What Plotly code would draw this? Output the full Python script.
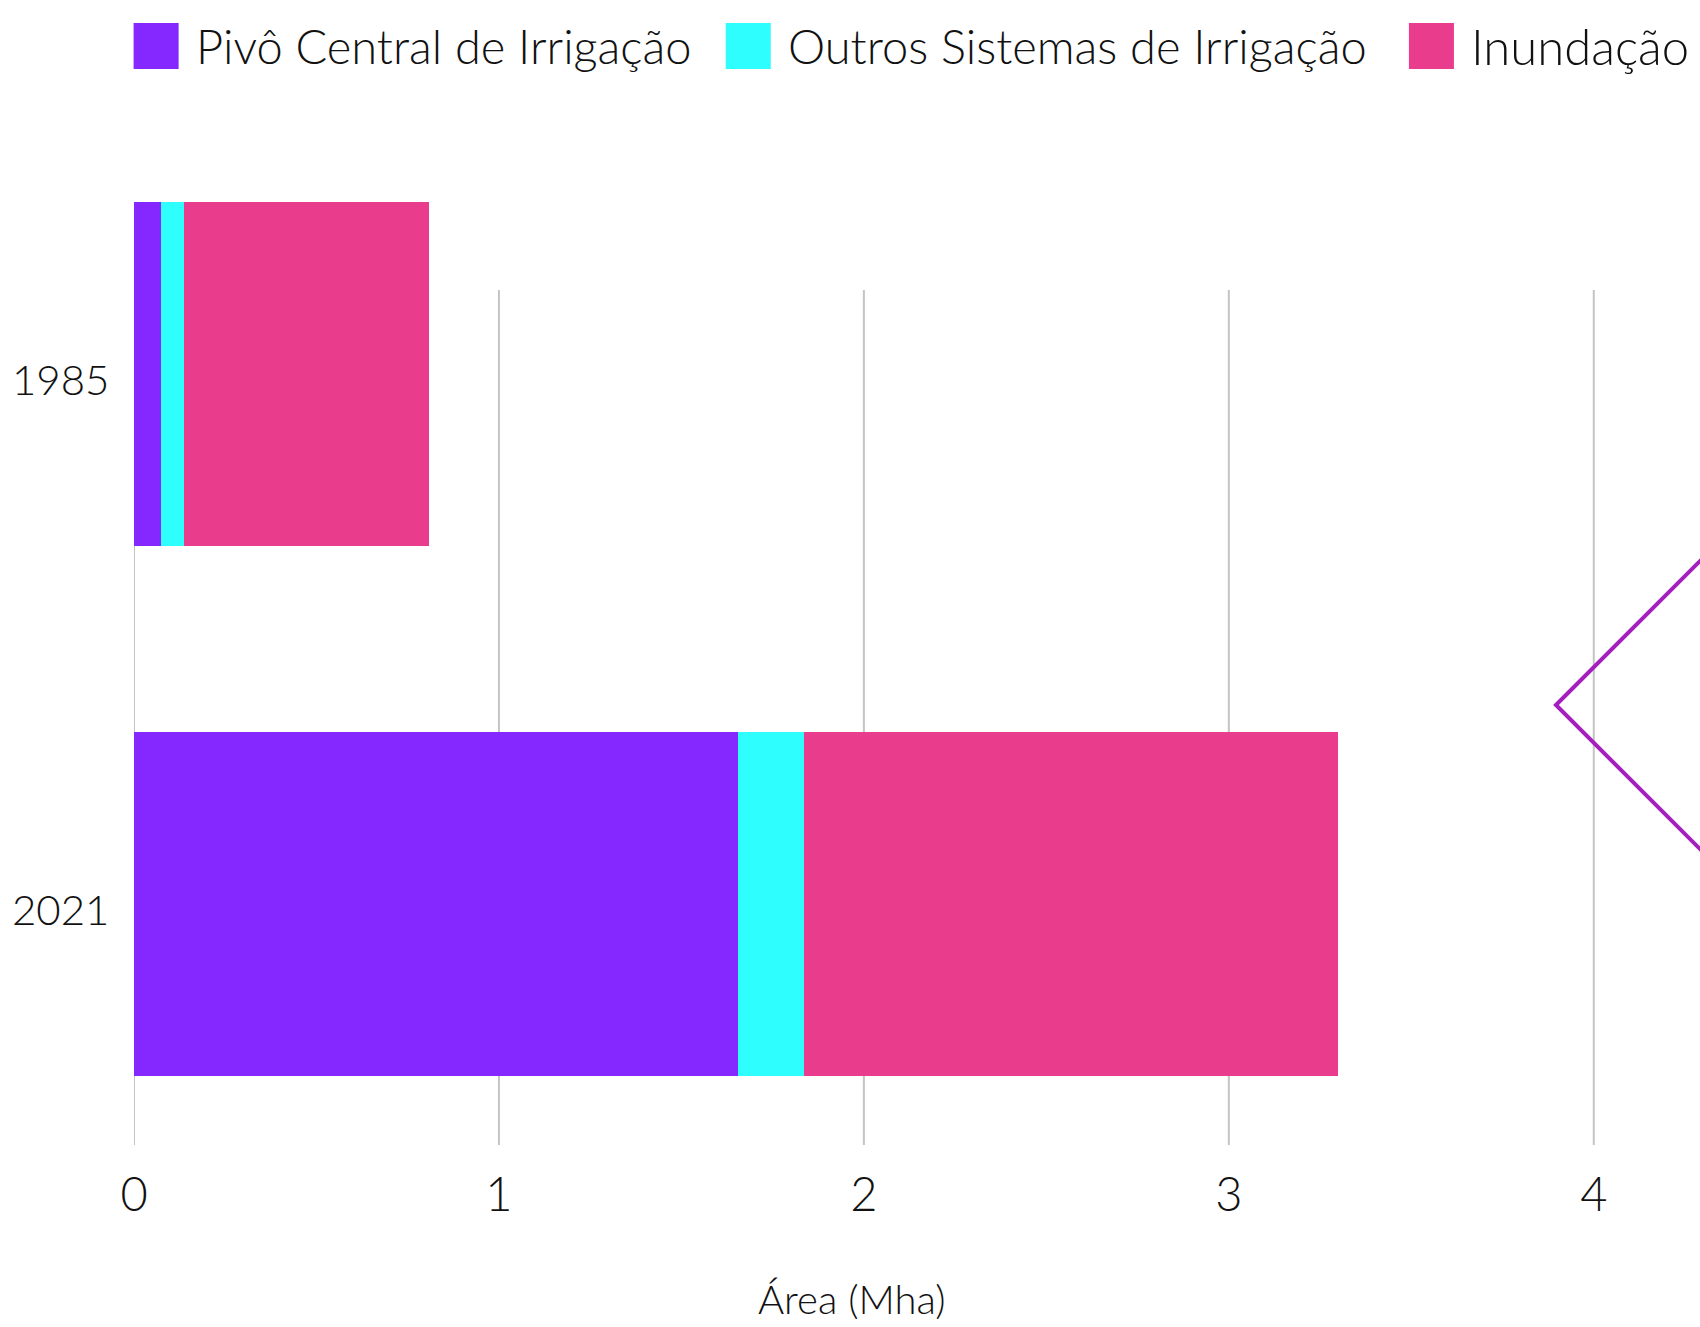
"""Irrigated area by system, 1985 vs 2021 (horizontal stacked bars)."""

import plotly.graph_objects as go

years = ["1985", "2021"]
series_names = [
    "Pivô Central de Irrigação",
    "Outros Sistemas de Irrigação",
    "Inundação",
]
pivo_central = [0.074, 1.655]
outros_sistemas = [0.062, 0.182]
inundacao = [0.672, 1.462]
x_ticks = [0, 1, 2, 3, 4]
x_title = "Área (Mha)"

colors = ["#8527ff", "#2efffe", "#ea3c8c"]
FONT = "Lato"

W, H = 1700, 1327
# plot area in page pixels
X0, Y0, Y1 = 134.4, 190, 1145
L, R, T, B = X0, 0, Y0, H - Y1
PW, PH = W - L - R, H - T - B


def px(x):
    return (x - L) / PW


def py(y):
    return (H - B - y) / PH


fig = go.Figure()
for name, vals, col in zip(series_names, [pivo_central, outros_sistemas, inundacao], colors):
    fig.add_trace(go.Bar(
        name=name, y=years, x=vals, orientation="h",
        marker=dict(color=col, line=dict(width=0)),
        showlegend=False,
    ))

# gridlines stop short of the plot top
shapes = []
for t in x_ticks:
    shapes.append(dict(
        type="line", xref="x", yref="paper", x0=t, x1=t, y0=0, y1=py(290),
        line=dict(color="#c4c4c4", width=2), layer="below",
    ))

# hand-built legend with big square swatches
annotations = []
legend_swatch_x = [134, 726, 1409]
legend_sizes = [47, 47, 49]
for name, col, sx, fs in zip(series_names, colors, legend_swatch_x, legend_sizes):
    shapes.append(dict(
        type="rect", xref="paper", yref="paper",
        x0=px(sx), x1=px(sx + 45), y0=py(23), y1=py(69),
        fillcolor=col, line=dict(width=0),
    ))
    annotations.append(dict(
        xref="paper", yref="paper", x=px(sx + 60), y=py(46),
        xanchor="left", yanchor="middle", showarrow=False, text=name,
        font=dict(family=FONT, size=fs, color="#111111", weight=300),
    ))

# year labels sit a touch below the bar centres (category index on y)
for i, yr in enumerate(years):
    annotations.append(dict(
        xref="paper", yref="y", x=px(111), y=i, yshift=-5,
        xanchor="right", yanchor="middle", showarrow=False, text=yr,
        font=dict(family=FONT, size=42, color="#111111", weight=300),
    ))

# decorative diamond cut off at the right edge
d0x, d0y, ds = 1556, 705, 320
diamond = [(d0x, d0y), (d0x + ds, d0y - ds), (d0x + 2 * ds, d0y), (d0x + ds, d0y + ds)]
path = "M " + " L ".join(f"{px(a):.5f},{py(b):.5f}" for a, b in diamond) + " Z"
shapes.append(dict(
    type="path", xref="paper", yref="paper", path=path,
    line=dict(color="#a51ebe", width=4),
))

annotations.append(dict(
    xref="paper", yref="paper", x=px(852), y=py(1299),
    xanchor="center", yanchor="middle", showarrow=False, text=x_title,
    font=dict(family=FONT, size=40, color="#111111", weight=300),
))

fig.update_layout(
    width=W, height=H,
    margin=dict(l=L, r=R, t=T, b=B, autoexpand=False),
    barmode="stack", bargap=0.351,
    plot_bgcolor="white", paper_bgcolor="white",
    shapes=shapes, annotations=annotations,
    xaxis=dict(
        range=[0, PW / 364.85], tickvals=x_ticks, showgrid=False,
        zeroline=False, showline=False, ticks="", ticklabelstandoff=18,
        tickfont=dict(family=FONT, size=47, color="#111111", weight=300),
    ),
    yaxis=dict(
        type="category", categoryorder="array", categoryarray=years,
        range=[1.4547, -0.3472], showgrid=False, zeroline=False,
        showline=False, showticklabels=False,
    ),
)

# page margin off so the figure fills the window exactly
fig.write_html(
    "out.html",
    config={"displayModeBar": False},
    post_script="document.body.style.margin='0';"
    "document.documentElement.style.overflow='hidden';",
)
